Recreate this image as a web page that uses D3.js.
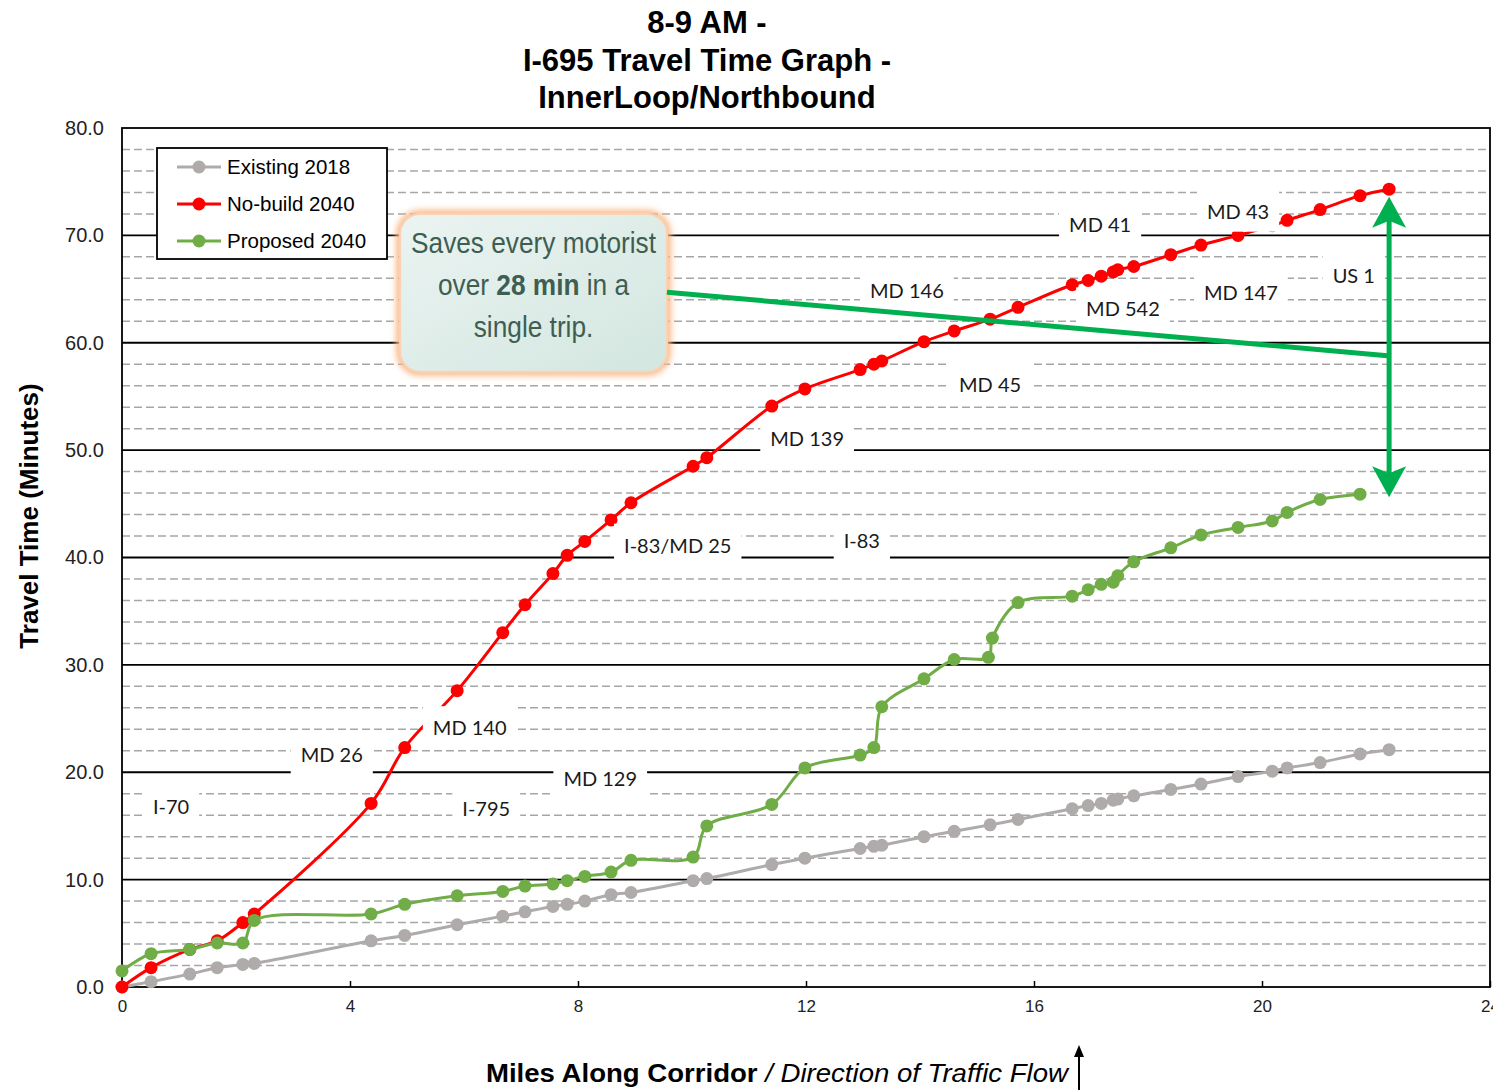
<!DOCTYPE html>
<html>
<head>
<meta charset="utf-8">
<script src="https://cdn.jsdelivr.net/npm/d3@7"></script>
<style>
  body { margin: 0; background: #fff; }
  svg { display: block; }
</style>
</head>
<body>
<svg id="chart" width="1493" height="1092"></svg>
<script>
// miles along corridor (shared by existing / no-build)
var miles = [0, 0.51, 1.19, 1.67, 2.12, 2.32, 4.37, 4.96, 5.88, 6.68, 7.07, 7.56, 7.81, 8.12, 8.58, 8.93,
    10.02, 10.26, 11.4, 11.98, 12.95, 13.19, 13.33, 14.07, 14.6, 15.23, 15.72, 16.67, 16.95, 17.18, 17.39,
    17.47, 17.75, 18.4, 18.93, 19.58, 20.18, 20.44, 21.02, 21.72, 22.23]

var existing2018 = [0, 0.5, 1.2, 1.8, 2.1, 2.2, 4.3, 4.8, 5.8, 6.6, 7.0, 7.5, 7.7, 8.0, 8.6, 8.8,
    9.9, 10.1, 11.4, 12.0, 12.9, 13.1, 13.2, 14.0, 14.5, 15.1, 15.6, 16.6, 16.9, 17.1, 17.4,
    17.5, 17.8, 18.4, 18.9, 19.6, 20.1, 20.4, 20.9, 21.7, 22.1]

var nobuild2040 = [0, 1.8, 3.5, 4.3, 6.0, 6.8, 17.1, 22.3, 27.6, 33.0, 35.6, 38.5, 40.2, 41.5, 43.5, 45.1,
    48.5, 49.3, 54.1, 55.7, 57.5, 58.0, 58.3, 60.1, 61.1, 62.2, 63.3, 65.4, 65.8, 66.2, 66.6,
    66.8, 67.1, 68.2, 69.1, 70.0, 70.9, 71.4, 72.4, 73.7, 74.3]

var proposedMiles = [0, 0.51, 1.19, 1.67, 2.12, 2.32, 4.37, 4.96, 5.88, 6.68, 7.07, 7.56, 7.81, 8.12, 8.58, 8.93,
    10.02, 10.26, 11.4, 11.98, 12.95, 13.19, 13.33, 14.07, 14.6, 15.2, 15.27, 15.72, 16.67, 16.95, 17.18,
    17.39, 17.47, 17.75, 18.4, 18.93, 19.58, 20.18, 20.44, 21.02, 21.72]

var proposed2040 = [1.5, 3.1, 3.5, 4.1, 4.1, 6.2, 6.8, 7.7, 8.5, 8.9, 9.4, 9.6, 9.9, 10.3, 10.7, 11.8,
    12.1, 15.0, 17.0, 20.4, 21.6, 22.3, 26.1, 28.7, 30.5, 30.7, 32.5, 35.8, 36.4, 37.0, 37.5,
    37.7, 38.3, 39.6, 40.9, 42.1, 42.8, 43.4, 44.2, 45.4, 45.9]

var seriesNames = ["Existing 2018", "No-build 2040", "Proposed 2040"]
var seriesColors = ["#afabab", "#ff0000", "#70ad47"]

// interchange labels: [name, mile, minutes]
var interchanges = [
    ["I-70", 0.86, 16.9], ["MD 26", 3.68, 21.7], ["MD 140", 6.1, 24.2], ["I-795", 6.39, 16.7],
    ["MD 129", 8.39, 19.5], ["I-83/MD 25", 9.75, 41.2], ["I-83", 12.98, 41.6], ["MD 139", 12.02, 51.1],
    ["MD 45", 15.23, 56.2], ["MD 146", 13.77, 64.9], ["MD 41", 17.16, 71.1], ["MD 542", 17.56, 63.2],
    ["MD 43", 19.58, 72.3], ["MD 147", 19.63, 64.7], ["US 1", 21.61, 66.3]
]

var xTicks = [0, 4, 8, 12, 16, 20, 24]
var yTicks = [0, 10, 20, 30, 40, 50, 60, 70, 80]

var svg = d3.select("#chart")
var x = d3.scaleLinear().domain([0, 24]).range([122, 1490])
var y = d3.scaleLinear().domain([0, 80]).range([987, 128])

var SANS = "'Liberation Sans', Arial, sans-serif"

// title
var title = ["8-9 AM -", "I-695 Travel Time Graph -", "InnerLoop/Northbound"]
svg.append("g").selectAll("text").data(title).join("text")
    .attr("x", 707).attr("y", function(d, i) { return 33 + i * 37.5 })
    .attr("text-anchor", "middle")
    .style("font-family", SANS)
    .style("font-weight", "bold").style("font-size", "31px")
    .text(function(d) { return d })

// gridlines
var grid = svg.append("g")
d3.range(2, 80, 2).forEach(function(v) {
    var major = v % 10 == 0
    grid.append("line")
        .attr("x1", x(0)).attr("x2", x(24)).attr("y1", y(v)).attr("y2", y(v))
        .attr("stroke", major ? "#000" : "#a6a6a6")
        .attr("stroke-width", major ? 1.8 : 1.5)
        .attr("stroke-dasharray", major ? null : "8,4")
})

// frame
svg.append("rect")
    .attr("x", x(0)).attr("y", y(80)).attr("width", x(24) - x(0)).attr("height", y(0) - y(80))
    .attr("fill", "none").attr("stroke", "#000").attr("stroke-width", 1.8)

// axes
var xAxis = svg.append("g").attr("transform", "translate(0," + y(0) + ")")
    .call(d3.axisBottom(x).tickValues(xTicks).tickSize(-6).tickPadding(13).tickFormat(d3.format("d")))
xAxis.select(".domain").remove()
xAxis.selectAll("line").attr("stroke-width", 1.5)
xAxis.selectAll("text")
    .style("font-family", SANS)
    .style("font-size", "17px").attr("fill", "#222")
    .attr("transform", function() { return null })

var yAxis = svg.append("g").attr("transform", "translate(" + (x(0) - 16) + ",0)")
    .call(d3.axisLeft(y).tickValues(yTicks).tickSize(0).tickPadding(2).tickFormat(d3.format(".1f")))
yAxis.select(".domain").remove()
yAxis.selectAll("text")
    .style("font-family", SANS)
    .style("font-size", "20px").attr("fill", "#222")

// axis titles
svg.append("text")
    .attr("transform", "translate(38,516) rotate(-90)")
    .attr("text-anchor", "middle")
    .style("font-family", SANS)
    .style("font-weight", "bold").style("font-size", "26px")
    .text("Travel Time (Minutes)")

var xt = svg.append("text").attr("x", 486).attr("y", 1082)
    .attr("textLength", 582).attr("lengthAdjust", "spacingAndGlyphs")
    .style("font-family", SANS).style("font-size", "26px")
xt.append("tspan").style("font-weight", "bold").text("Miles Along Corridor")
xt.append("tspan").style("font-style", "italic").text(" / Direction of Traffic Flow")

svg.append("line").attr("x1", 1079).attr("x2", 1079).attr("y1", 1090).attr("y2", 1052)
    .attr("stroke", "#000").attr("stroke-width", 2)
svg.append("path").attr("d", "M1079,1045 L1074,1057 L1084,1057 Z").attr("fill", "#000")

// series
var series = [
    { name: seriesNames[0], color: seriesColors[0], pts: d3.zip(miles, existing2018) },
    { name: seriesNames[1], color: seriesColors[1], pts: d3.zip(miles, nobuild2040) },
    { name: seriesNames[2], color: seriesColors[2], pts: d3.zip(proposedMiles, proposed2040) }
]

var line = d3.line()
    .x(function(d) { return x(d[0]) })
    .y(function(d) { return y(d[1]) })
    .curve(d3.curveCatmullRom.alpha(0.5))

var sg = svg.append("g").selectAll("g").data(series).join("g")
sg.append("path")
    .attr("d", function(d) { return line(d.pts) })
    .attr("fill", "none").attr("stroke", function(d) { return d.color }).attr("stroke-width", 3)
sg.selectAll("circle").data(function(d) { return d.pts.map(function(p) { return [p[0], p[1], d.color] }) })
    .join("circle")
    .attr("cx", function(d) { return x(d[0]) }).attr("cy", function(d) { return y(d[1]) })
    .attr("r", 6.5).attr("fill", function(d) { return d[2] })

// interchange labels
var lab = svg.append("g").selectAll("g").data(interchanges).join("g")
lab.each(function(d) {
    var g = d3.select(this)
    var t = g.append("text")
        .attr("x", x(d[1])).attr("y", y(d[2]))
        .attr("text-anchor", "middle").attr("dominant-baseline", "central")
        .style("font-family", "Lato, 'Open Sans', sans-serif").style("font-size", "20px")
        .attr("fill", "#1a1a1a")
        .text(d[0])
    var b = t.node().getBBox()
    g.insert("rect", "text")
        .attr("x", b.x - 10).attr("y", b.y - 9).attr("width", b.width + 20).attr("height", b.height + 18)
        .attr("fill", "#fff")
})

// legend
var leg = svg.append("g").attr("transform", "translate(157,148)")
leg.append("rect").attr("width", 230).attr("height", 111)
    .attr("fill", "#fff").attr("stroke", "#000").attr("stroke-width", 1.8)
var li = leg.selectAll("g").data(series).join("g")
    .attr("transform", function(d, i) { return "translate(0," + (19 + i * 37) + ")" })
li.append("line").attr("x1", 20).attr("x2", 64)
    .attr("stroke", function(d) { return d.color }).attr("stroke-width", 3)
li.append("circle").attr("cx", 42).attr("r", 6.5).attr("fill", function(d) { return d.color })
li.append("text").attr("x", 70).attr("dy", "0.36em")
    .style("font-family", SANS).style("font-size", "20.5px")
    .text(function(d) { return d.name })

// annotation
var defs = svg.append("defs")
var grad = defs.append("linearGradient").attr("id", "boxfill")
    .attr("x1", "0").attr("y1", "0").attr("x2", "1").attr("y2", "1")
grad.append("stop").attr("offset", "0").attr("stop-color", "#ebf4f2")
grad.append("stop").attr("offset", "1").attr("stop-color", "#d3e6e0")
defs.append("filter").attr("id", "glow").attr("x", "-10%").attr("y", "-10%").attr("width", "120%").attr("height", "120%")
    .append("feGaussianBlur").attr("stdDeviation", 3)

var bx0 = x(4.88), bx1 = x(9.56), by0 = y(72.0), by1 = y(57.3)
svg.append("rect").attr("x", bx0).attr("y", by0).attr("width", bx1 - bx0).attr("height", by1 - by0)
    .attr("rx", 20).attr("fill", "none").attr("stroke", "#f7b888").attr("stroke-width", 8)
    .attr("filter", "url(#glow)")
svg.append("rect").attr("x", bx0).attr("y", by0).attr("width", bx1 - bx0).attr("height", by1 - by0)
    .attr("rx", 20).attr("fill", "url(#boxfill)").attr("stroke", "#fbd2b4").attr("stroke-width", 2)

var cx = (bx0 + bx1) / 2
var note = svg.append("g")
    .attr("transform", "translate(" + cx + ",0) scale(0.875,1)")
    .style("font-family", SANS)
    .style("font-size", "30px").attr("fill", "#3e5e52").attr("text-anchor", "middle")
note.append("text").attr("x", 0).attr("y", 253).text("Saves every motorist")
var l2 = note.append("text").attr("x", 0).attr("y", 295)
l2.append("tspan").text("over ")
l2.append("tspan").style("font-weight", "bold").text("28 min")
l2.append("tspan").text(" in a")
note.append("text").attr("x", 0).attr("y", 337).text("single trip.")

// green arrows
var arrowColor = "#00b050"
svg.append("line")
    .attr("x1", bx1).attr("y1", y(64.7)).attr("x2", x(22.2)).attr("y2", y(58.8))
    .attr("stroke", arrowColor).attr("stroke-width", 5)
var ax = x(22.23), tipTop = y(73.6), tipBot = y(45.6)
svg.append("line").attr("x1", ax).attr("x2", ax).attr("y1", tipTop + 20).attr("y2", tipBot - 20)
    .attr("stroke", arrowColor).attr("stroke-width", 5)
svg.append("path")
    .attr("d", "M" + ax + "," + tipTop + " L" + (ax + 17) + "," + (tipTop + 31) + " L" + ax + "," + (tipTop + 24) +
        " L" + (ax - 17) + "," + (tipTop + 31) + " Z")
    .attr("fill", arrowColor)
svg.append("path")
    .attr("d", "M" + ax + "," + tipBot + " L" + (ax + 17) + "," + (tipBot - 31) + " L" + ax + "," + (tipBot - 24) +
        " L" + (ax - 17) + "," + (tipBot - 31) + " Z")
    .attr("fill", arrowColor)
</script>
</body>
</html>
